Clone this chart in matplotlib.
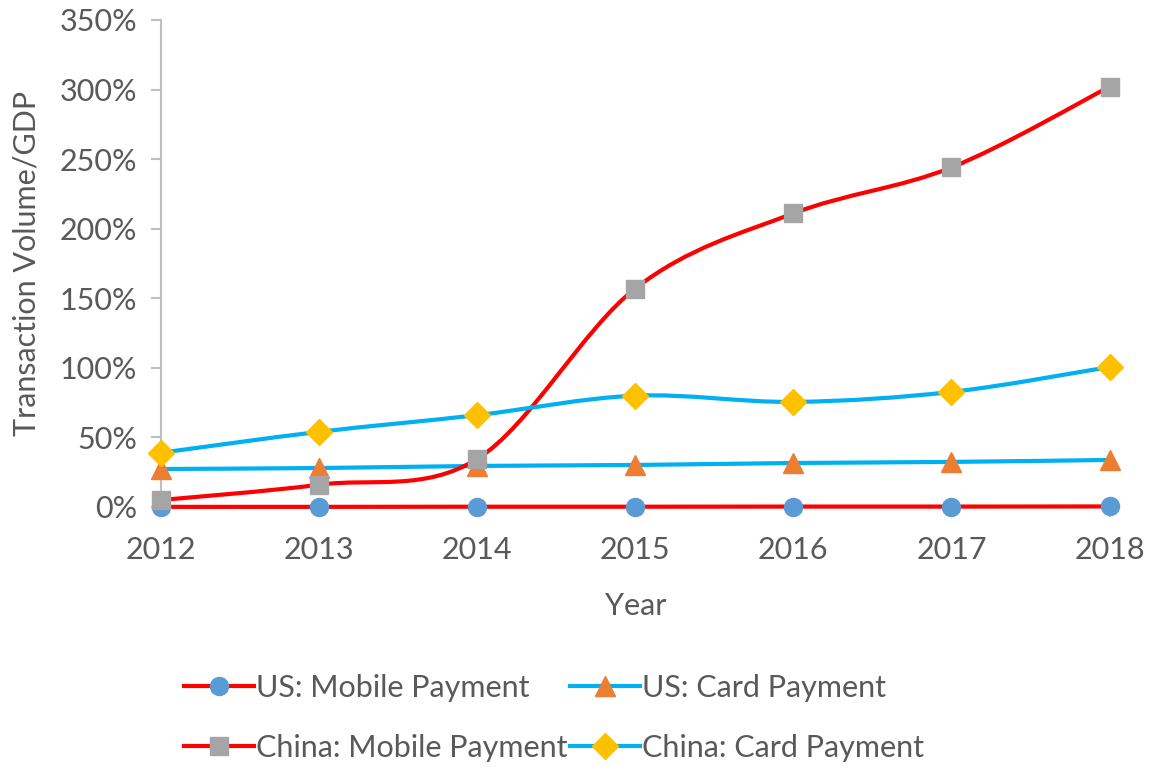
import matplotlib.pyplot as plt
from matplotlib.path import Path
from matplotlib.patches import PathPatch
from matplotlib.lines import Line2D
from matplotlib.ticker import FuncFormatter

years = [2012, 2013, 2014, 2015, 2016, 2017, 2018]
us_mobile = [0.1, 0.1, 0.2, 0.2, 0.3, 0.3, 0.4]
us_card = [27.3, 28.0, 29.5, 30.2, 31.6, 32.4, 33.8]
china_mobile = [5.0, 16.0, 34.5, 157.0, 211.0, 244.0, 302.0]
china_card = [39.0, 54.0, 66.0, 80.0, 75.5, 82.7, 100.6]

labels = ["US: Mobile Payment", "US: Card Payment",
          "China: Mobile Payment", "China: Card Payment"]

txt = "#595959"
fs = 22
plt.rcParams['font.family'] = ['Lato', 'DejaVu Sans']


def smooth_path(xs, ys):
    # Excel-style smoothed line: cubic bezier segments through the data points
    verts = [(xs[0], ys[0])]
    codes = [Path.MOVETO]
    n = len(xs)
    for i in range(n - 1):
        x0, y0 = (xs[i - 1], ys[i - 1]) if i > 0 else (xs[i], ys[i])
        x1, y1 = xs[i], ys[i]
        x2, y2 = xs[i + 1], ys[i + 1]
        x3, y3 = (xs[i + 2], ys[i + 2]) if i + 2 < n else (x2, y2)
        c1 = (x1 + (x2 - x0) / 6, y1 + (y2 - y0) / 6)
        c2 = (x2 - (x3 - x1) / 6, y2 - (y3 - y1) / 6)
        verts += [c1, c2, (x2, y2)]
        codes += [Path.CURVE4] * 3
    return Path(verts, codes)


fig = plt.figure(figsize=(11.54, 7.67), dpi=100)
ax = fig.add_axes([0.1395, 0.339, 0.822, 0.635])

series = [
    (us_mobile, "#FF0000", "o", "#5B9BD5", 13),
    (us_card, "#00B0F0", "^", "#ED7D31", 15),
    (china_mobile, "#FF0000", "s", "#A5A5A5", 13),
    (china_card, "#00B0F0", "D", "#FFC000", 13),
]

handles = []
for vals, lc, mk, mc, ms in series:
    ax.add_patch(PathPatch(smooth_path(years, vals), facecolor="none",
                           edgecolor=lc, lw=3, clip_on=False, zorder=3))
    ax.plot(years, vals, ls="none", marker=mk, color=mc, markersize=ms,
            clip_on=False, zorder=4)
    handles.append(Line2D([], [], color=lc, lw=3, marker=mk, markerfacecolor=mc,
                          markeredgecolor=mc, markersize=ms))

ax.set_xlim(2012, 2018)
ax.set_ylim(0, 350)
ax.set_xticks(years)
ax.set_yticks(range(0, 351, 50))
ax.yaxis.set_major_formatter(FuncFormatter(lambda v, p: f"{v:.0f}%"))

for s in ["top", "right"]:
    ax.spines[s].set_visible(False)
for s in ["left", "bottom"]:
    ax.spines[s].set_color("#BFBFBF")
    ax.spines[s].set_linewidth(1.5)
ax.tick_params(colors="#BFBFBF", labelcolor=txt, labelsize=fs, length=7, width=1.5)
ax.tick_params(axis="x", pad=14)
ax.tick_params(axis="y", pad=10)

ax.set_xlabel("Year", fontsize=fs, color=txt, labelpad=20)
ax.set_ylabel("Transaction Volume/GDP", fontsize=fs, color=txt, labelpad=14)

# Excel fills the legend row by row
order = [0, 2, 1, 3]
fig.legend([handles[i] for i in order], [labels[i] for i in order],
           loc="center", bbox_to_anchor=(0.48, 0.064), ncol=2,
           frameon=False, fontsize=fs, labelcolor=txt, handlelength=2.3,
           handletextpad=0.05, columnspacing=0.1, labelspacing=1.05)

fig.savefig("out.png", dpi=100)
